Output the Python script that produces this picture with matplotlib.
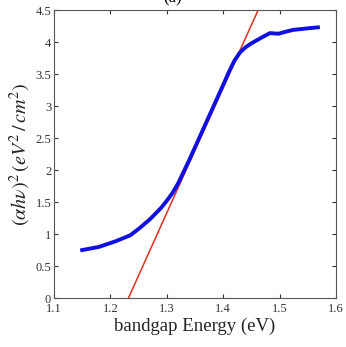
import matplotlib
matplotlib.use('Agg')
import matplotlib.pyplot as plt

plt.rcParams['font.family'] = ['Liberation Serif', 'DejaVu Serif']
plt.rcParams['mathtext.fontset'] = 'stix'

# measured curve
energy = [1.15, 1.18, 1.21, 1.235, 1.25, 1.27, 1.29, 1.30, 1.31, 1.32, 1.34, 1.36, 1.38,
          1.40, 1.41, 1.42, 1.43, 1.44, 1.45, 1.46, 1.47, 1.483, 1.498, 1.51, 1.524,
          1.545, 1.568]
absorb = [0.75, 0.80, 0.89, 0.98, 1.08, 1.23, 1.41, 1.52, 1.64, 1.79, 2.16, 2.55, 2.94,
          3.33, 3.53, 3.71, 3.84, 3.92, 3.98, 4.03, 4.08, 4.14, 4.13, 4.16, 4.19,
          4.21, 4.23]

# linear fit (Tauc extrapolation)
fit_x = [1.232, 1.462]
fit_y = [0.0, 4.5]

xticks = [1.1, 1.2, 1.3, 1.4, 1.5, 1.6]
yticks = [0, 0.5, 1, 1.5, 2, 2.5, 3, 3.5, 4, 4.5]

fig = plt.figure(figsize=(3.46, 3.47), dpi=100)
ax = fig.add_axes([0.156, 0.141, 0.815, 0.830])

ax.plot(fit_x, fit_y, color='#e03020', lw=1.1, zorder=2)
ax.plot(energy, absorb, color='#1010e0', lw=2.8, zorder=3)

ax.set_xlim(1.1, 1.6)
ax.set_ylim(0, 4.5)
ax.set_xticks(xticks)
ax.set_xticklabels([str(t) for t in xticks])
ax.set_yticks(yticks)
ax.set_yticklabels([str(t) for t in yticks])
ax.tick_params(direction='in', top=True, right=True, labelsize=9, length=3,
               colors='#333333')
ax.tick_params(axis='y', pad=2)
for s in ax.spines.values():
    s.set_color('#555555')

ax.set_xlabel('bandgap Energy (eV)', fontsize=13.5, color='#222222', labelpad=2)
ax.set_ylabel(r'$(\alpha h\nu)^2\,(eV^2\,/\,cm^2)$', fontsize=14.5, color='#222222',
              labelpad=2)

fig.text(0.5, 1.005, '(a)', ha='center', va='center', fontsize=12)

fig.savefig('out.png', dpi=100)
